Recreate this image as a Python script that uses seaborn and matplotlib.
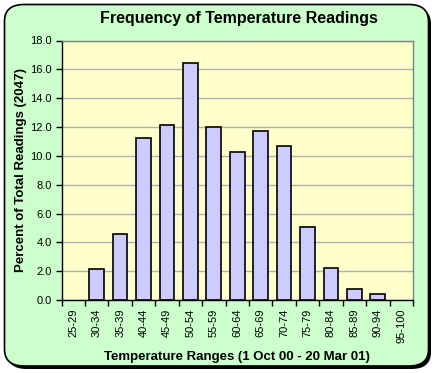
import matplotlib
matplotlib.use("Agg")
import matplotlib.pyplot as plt
import seaborn as sns
import pandas as pd
from matplotlib.patches import FancyBboxPatch
from matplotlib.ticker import FixedLocator, MultipleLocator, FormatStrFormatter

categories = ["25-29", "30-34", "35-39", "40-44", "45-49", "50-54", "55-59",
              "60-64", "65-69", "70-74", "75-79", "80-84", "85-89", "90-94", "95-100"]
percent = [0.0, 2.12, 4.57, 11.27, 12.14, 16.46, 12.03, 10.30, 11.75, 10.71,
           5.03, 2.19, 0.74, 0.41, 0.0]

title = "Frequency of Temperature Readings"
xlabel = "Temperature Ranges (1 Oct 00 - 20 Mar 01)"
ylabel = "Percent of Total Readings (2047)"

sns.set_theme(style="white")
plt.rcParams["font.family"] = ["Liberation Sans", "DejaVu Sans"]
plt.rcParams.update({"text.color": "black", "axes.labelcolor": "black",
                     "xtick.color": "black", "ytick.color": "black"})

W, H = 434, 373
fig = plt.figure(figsize=(W / 100, H / 100), dpi=100)
fig.patch.set_facecolor("white")

# shadow
shadow = FancyBboxPatch((7 / W, 1 - 369 / H), 424 / W, 362 / H,
                        boxstyle="round,pad=0,rounding_size=0.045",
                        transform=fig.transFigure, facecolor="black",
                        edgecolor="black", linewidth=0, zorder=0)
fig.patches.append(shadow)
frame = FancyBboxPatch((4.5 / W, 1 - 366 / H), 424 / W, 361.5 / H,
                       boxstyle="round,pad=0,rounding_size=0.045",
                       transform=fig.transFigure, facecolor="#CCFFCC",
                       edgecolor="black", linewidth=1.2, zorder=1)
fig.patches.append(frame)

left, right = 61.5 / W, 413 / W
bottom, top = 1 - 300 / H, 1 - 40.5 / H
ax = fig.add_axes([left, bottom, right - left, top - bottom], zorder=2)
ax.set_facecolor("#FFFFCC")

df = pd.DataFrame({"cat": categories, "pct": percent})
sns.barplot(data=df, x="cat", y="pct", ax=ax, color="#CCCCFF",
            edgecolor="black", linewidth=1.2, width=0.63, saturation=1, zorder=3)
for p in ax.patches:
    if p.get_height() == 0:
        p.set_visible(False)

ax.set_xlim(-0.5, len(categories) - 0.5)
ax.set_ylim(0, 18)
ax.yaxis.set_major_locator(MultipleLocator(2))
ax.yaxis.set_major_formatter(FormatStrFormatter("%.1f"))
ax.grid(axis="y", color="#B0B0B0", linewidth=1, zorder=1)
ax.set_axisbelow(True)

for s in ["top", "right"]:
    ax.spines[s].set_color("#808080")
    ax.spines[s].set_linewidth(1)
for s in ["left", "bottom"]:
    ax.spines[s].set_color("black")
    ax.spines[s].set_linewidth(1)

ax.xaxis.set_minor_locator(FixedLocator([i - 0.5 for i in range(len(categories) + 1)]))
ax.tick_params(axis="x", which="major", length=0, labelsize=8, rotation=90, pad=6, colors="black")
ax.tick_params(axis="x", which="minor", length=4, width=1, direction="out", color="black", bottom=True)
ax.tick_params(axis="y", which="major", length=4, width=1, direction="out", labelsize=8,
               color="black", left=True, pad=3)

ax.set_xlabel(xlabel, fontsize=9.5, fontweight="bold", labelpad=6, color="black")
ax.set_ylabel(ylabel, fontsize=9.5, fontweight="bold", labelpad=2, color="black")
fig.text(239 / W, 1 - 19 / H, title, ha="center", va="center",
         fontsize=11.5, fontweight="bold", color="black")

fig.savefig("out.png", dpi=100, facecolor="white")
